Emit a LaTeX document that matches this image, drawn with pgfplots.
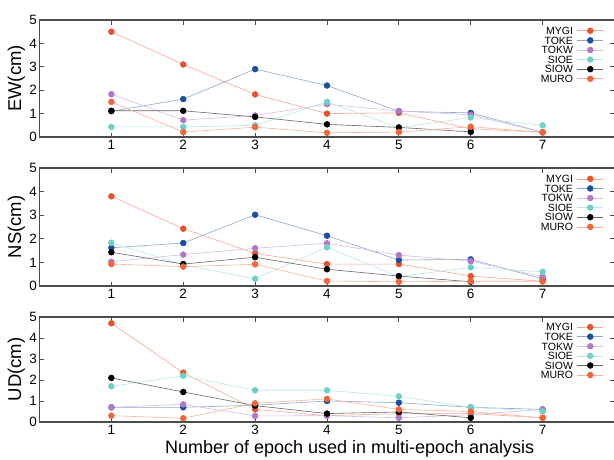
\documentclass[border=0pt]{standalone}
\usepackage{fontspec}
\setmainfont{Liberation Sans}
\usepackage{pgfplots}
\pgfplotsset{compat=1.18}
\usepackage{pgfplotstable}

\definecolor{cMYGI}{HTML}{E8532E}
\definecolor{cTOKE}{HTML}{1A4FA0}
\definecolor{cTOKW}{HTML}{B07AC8}
\definecolor{cSIOE}{HTML}{70D0C8}
\definecolor{cSIOW}{HTML}{000000}
\definecolor{cMURO}{HTML}{F0663A}

\pgfplotstableread{
x MYGI TOKE TOKW SIOE MURO
1 4.5  1.1  1.83 0.43 1.5
2 3.1  1.62 0.72 0.43 0.21
3 1.82 2.9  0.92 0.5  0.42
4 1.0  2.2  1.4  1.5  0.18
5 1.03 1.1  1.11 0.4  0.21
6 0.35 1.03 0.95 0.83 0.44
7 0.2  0.2  0.2  0.5  0.2
}\ew
\pgfplotstableread{
x SIOW
1 1.12
2 1.12
3 0.86
4 0.54
5 0.41
6 0.22
}\ewsiow

\pgfplotstableread{
x MYGI TOKE TOKW SIOE MURO
1 3.8  1.62 1.03 1.83 0.93
2 2.43 1.82 1.33 0.9  0.82
3 1.38 3.02 1.6  0.31 0.92
4 0.93 2.13 1.81 1.64 0.21
5 0.93 1.1  1.31 0.4  0.18
6 0.42 1.13 1.05 0.79 0.2
7 0.2  0.3  0.4  0.6  0.2
}\ns
\pgfplotstableread{
x SIOW
1 1.43
2 0.93
3 1.22
4 0.71
5 0.42
6 0.18
}\nssiow

\pgfplotstableread{
x MYGI TOKE TOKW SIOE MURO
1 4.7  0.7  0.7  1.7  0.3
2 2.35 0.7  0.84 2.2  0.18
3 0.6  0.8  0.29 1.51 0.89
4 0.3  1.0  0.3  1.51 1.1
5 0.4  0.92 0.2  1.22 0.6
6 0.4  0.7  0.35 0.7  0.5
7 0.2  0.6  0.6  0.5  0.2
}\ud
\pgfplotstableread{
x SIOW
1 2.1
2 1.43
3 0.78
4 0.4
5 0.48
6 0.2
}\udsiow

\pgfplotsset{
  panel/.style={
    scale only axis, width=575pt,
    xmin=0, xmax=8, ymin=0, ymax=5,
    xtick={1,...,7}, ytick={0,...,5},
    tick align=inside, major tick length=4.5pt,
    every tick/.style={black!70, line width=0.9pt},
    axis line style={black!70, line width=1.3pt},
    ticklabel style={font=\fontsize{13.5}{13.5}\selectfont},
    yticklabel style={xshift=1pt},
    /pgf/number format/assume math mode=true,
    ylabel style={font=\fontsize{18.5}{18.5}\selectfont, at={(axis description cs:-0.025,0.5)}, anchor=south, inner sep=0pt},
    legend plot pos=right, legend cell align=right,
    legend style={draw=none, fill=none, inner sep=0pt, outer sep=0pt,
      at={(0.981,0.94)}, anchor=north east,
      font=\fontsize{10.5}{10.5}\selectfont, row sep=2.1pt, column sep=4pt,
      nodes={inner sep=0pt, text height=7.5pt, text depth=0pt}},
    legend image code/.code={\draw[mark repeat=2,mark phase=2] plot coordinates {(0pt,0pt) (13pt,0pt) (26pt,0pt)};},
  },
  ser/.style={color=#1!50!white, line width=0.6pt, mark=*, mark size=2.9pt, mark options={draw=#1, fill=#1, solid}},
}

\begin{document}
\begin{tikzpicture}
\useasboundingbox (0,0) rectangle (614pt,459pt);

\begin{axis}[panel, at={(39.5pt,322pt)}, anchor=south west, height=117pt, ylabel={EW(cm)}]
\addplot[ser=cMYGI] table[x=x,y=MYGI]{\ew};
\addplot[ser=cTOKE] table[x=x,y=TOKE]{\ew};
\addplot[ser=cTOKW] table[x=x,y=TOKW]{\ew};
\addplot[ser=cSIOE] table[x=x,y=SIOE]{\ew};
\addplot[ser=cSIOW, color=black!60] table[x=x,y=SIOW]{\ewsiow};
\addplot[ser=cMURO] table[x=x,y=MURO]{\ew};
\legend{MYGI,TOKE,TOKW,SIOE,SIOW,MURO}
\end{axis}

\begin{axis}[panel, at={(39.5pt,173pt)}, anchor=south west, height=118pt, ylabel={NS(cm)}]
\addplot[ser=cMYGI] table[x=x,y=MYGI]{\ns};
\addplot[ser=cTOKE] table[x=x,y=TOKE]{\ns};
\addplot[ser=cTOKW] table[x=x,y=TOKW]{\ns};
\addplot[ser=cSIOE] table[x=x,y=SIOE]{\ns};
\addplot[ser=cSIOW, color=black!60] table[x=x,y=SIOW]{\nssiow};
\addplot[ser=cMURO] table[x=x,y=MURO]{\ns};
\legend{MYGI,TOKE,TOKW,SIOE,SIOW,MURO}
\end{axis}

\begin{axis}[panel, at={(39.5pt,37pt)}, anchor=south west, height=105pt, ylabel={UD(cm)},
  xlabel={Number of epoch used in multi-epoch analysis},
  xlabel style={font=\fontsize{18}{18}\selectfont, at={(axis description cs:0.5395,-0.3)}, anchor=base, inner sep=0pt}]
\addplot[ser=cMYGI] table[x=x,y=MYGI]{\ud};
\addplot[ser=cTOKE] table[x=x,y=TOKE]{\ud};
\addplot[ser=cTOKW] table[x=x,y=TOKW]{\ud};
\addplot[ser=cSIOE] table[x=x,y=SIOE]{\ud};
\addplot[ser=cSIOW, color=black!60] table[x=x,y=SIOW]{\udsiow};
\addplot[ser=cMURO] table[x=x,y=MURO]{\ud};
\legend{MYGI,TOKE,TOKW,SIOE,SIOW,MURO}
\end{axis}
\end{tikzpicture}
\end{document}
